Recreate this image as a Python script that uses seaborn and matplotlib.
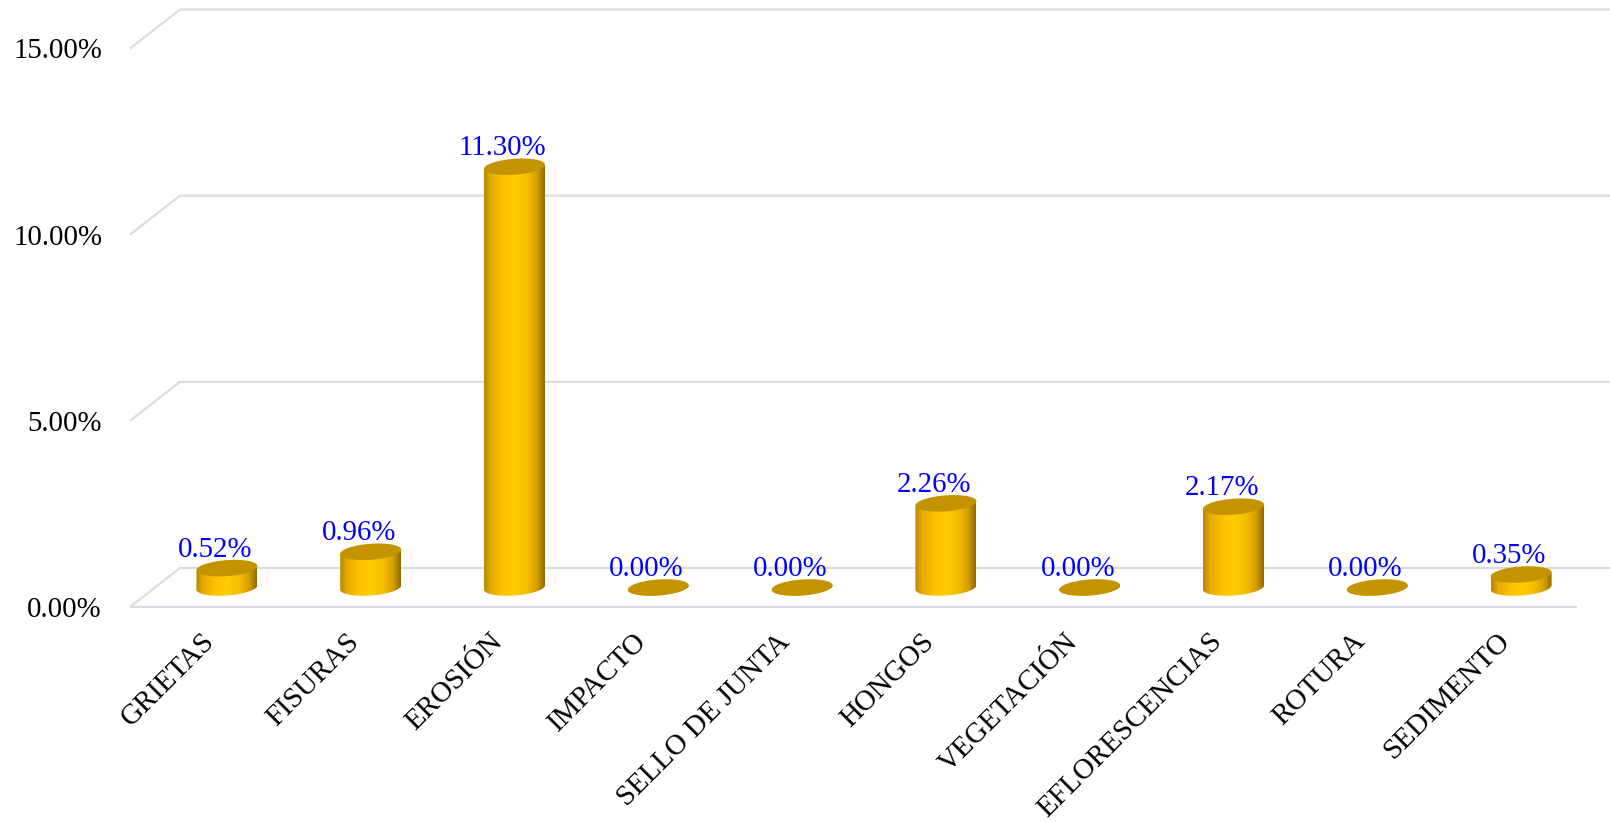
import numpy as np
import pandas as pd
import matplotlib
matplotlib.use("Agg")
import matplotlib.pyplot as plt
import seaborn as sns
from matplotlib.patches import Polygon
from matplotlib.colors import LinearSegmentedColormap

# Datos
categorias = ["GRIETAS", "FISURAS", "EROSIÓN", "IMPACTO", "SELLO DE JUNTA",
              "HONGOS", "VEGETACIÓN", "EFLORESCENCIAS", "ROTURA", "SEDIMENTO"]
porcentajes = [0.52, 0.96, 11.30, 0.00, 0.00, 2.26, 0.00, 2.17, 0.00, 0.35]
ticks_y = [0, 5, 10, 15]

sns.set_theme(style="white")
plt.rcParams["font.family"] = ["Liberation Serif", "DejaVu Serif"]
FS = 20.8

W, H = 1610, 822
fig = plt.figure(figsize=(W / 100, H / 100), dpi=100)

xmin, xmax = -0.5, len(categorias) - 0.5
ymin, ymax = 0, 15
ybelow = -1.0            # room under the floor for the cylinder bases

# plotting area: value 0 at 587.5 px from top, 15 % at 29 px
sy = (587.5 - 29) / (ymax - ymin)
bottom_px = H - 587.5 + ybelow * sy
ax = fig.add_axes([155 / W, bottom_px / H, 1438 / W, (ymax - ybelow) * sy / H])

df = pd.DataFrame({"categoria": categorias, "porcentaje": porcentajes})
sns.barplot(data=df, x="categoria", y="porcentaje", order=categorias,
            width=0.424, color="#FFC800", ax=ax)

ax.set_xlim(xmin, xmax)
ax.set_ylim(ybelow, ymax)
sx = 1438 / (xmax - xmin)

# half depth of the 3D floor (pixels) expressed in data units
DX, DY = 25, 19.5
ddx, ddy = DX / sx, DY / sy

grid_kw = dict(color="#D9DCE4", lw=1.6, clip_on=False, zorder=0,
               solid_capstyle="butt")
for v in ticks_y:
    ax.plot([xmin - ddx, xmin + ddx, xmax + ddx + 0.5],
            [v - ddy, v + ddy, v + ddy], **grid_kw)
# front edge of the floor
ax.plot([xmin - ddx, xmax - ddx + 0.06], [ymin - ddy, ymin - ddy], **grid_kw)

# cylinder shading
cmap = LinearSegmentedColormap.from_list(
    "cilindro",
    [(0.0, "#B88900"), (0.12, "#E6AC00"), (0.35, "#FFC400"), (0.5, "#FFCC00"),
     (0.72, "#F5BC00"), (0.88, "#D19C00"), (1.0, "#8F6B00")])
grad = np.linspace(0, 1, 256).reshape(1, -1)

B = 8.0      # ellipse half height (px)
K = 0.07     # ellipse tilt (px / px)

bars = list(ax.patches)
for p in bars:
    x0, w, h = p.get_x(), p.get_width(), p.get_height()
    xc = x0 + w / 2
    a = w / 2 * sx
    t = np.linspace(np.pi, 2 * np.pi, 80)
    arc_x = xc + a * np.cos(t) / sx
    arc_y = (B * np.sin(t) + K * a * np.cos(t)) / sy
    body = ([(x0, h - K * a / sy)] + list(zip(arc_x, arc_y))
            + [(x0 + w, h + K * a / sy)])
    poly = Polygon(body, closed=True, fc="none", ec="none")
    ax.add_patch(poly)
    im = ax.imshow(grad, cmap=cmap, extent=[x0, x0 + w, -2 * B / sy, h + 1],
                   aspect="auto", origin="lower", interpolation="bilinear",
                   zorder=3)
    im.set_clip_path(poly)

    tt = np.linspace(0, 2 * np.pi, 160)
    ex = xc + a * np.cos(tt) / sx
    ey = h + (B * np.sin(tt) + K * a * np.cos(tt)) / sy
    ax.fill(ex, ey, color="#C39300", lw=0, zorder=4)
    p.set_visible(False)

    ax.annotate(f"{h:.2f}%", xy=(xc, h), xytext=(-12, 11.5),
                textcoords="offset pixels", ha="center", va="baseline",
                color="#0000FF", fontsize=FS, zorder=5)

ax.set_xlim(xmin, xmax)
ax.set_ylim(ybelow, ymax)

# value axis labels, placed on the front edge
for v in ticks_y:
    ax.annotate(f"{v:.2f}%", xy=(xmin, v), xytext=(-53, -DY - 10),
                textcoords="offset pixels", ha="right", va="baseline",
                fontsize=FS, color="black")

# category labels
for i, c in enumerate(categorias):
    ax.annotate(c, xy=(i, ymin), xytext=(-25, -41), textcoords="offset pixels",
                ha="right", va="top", rotation=45, rotation_mode="anchor",
                fontsize=FS, color="black")

ax.set_axis_off()
fig.savefig("out.png", dpi=100)
